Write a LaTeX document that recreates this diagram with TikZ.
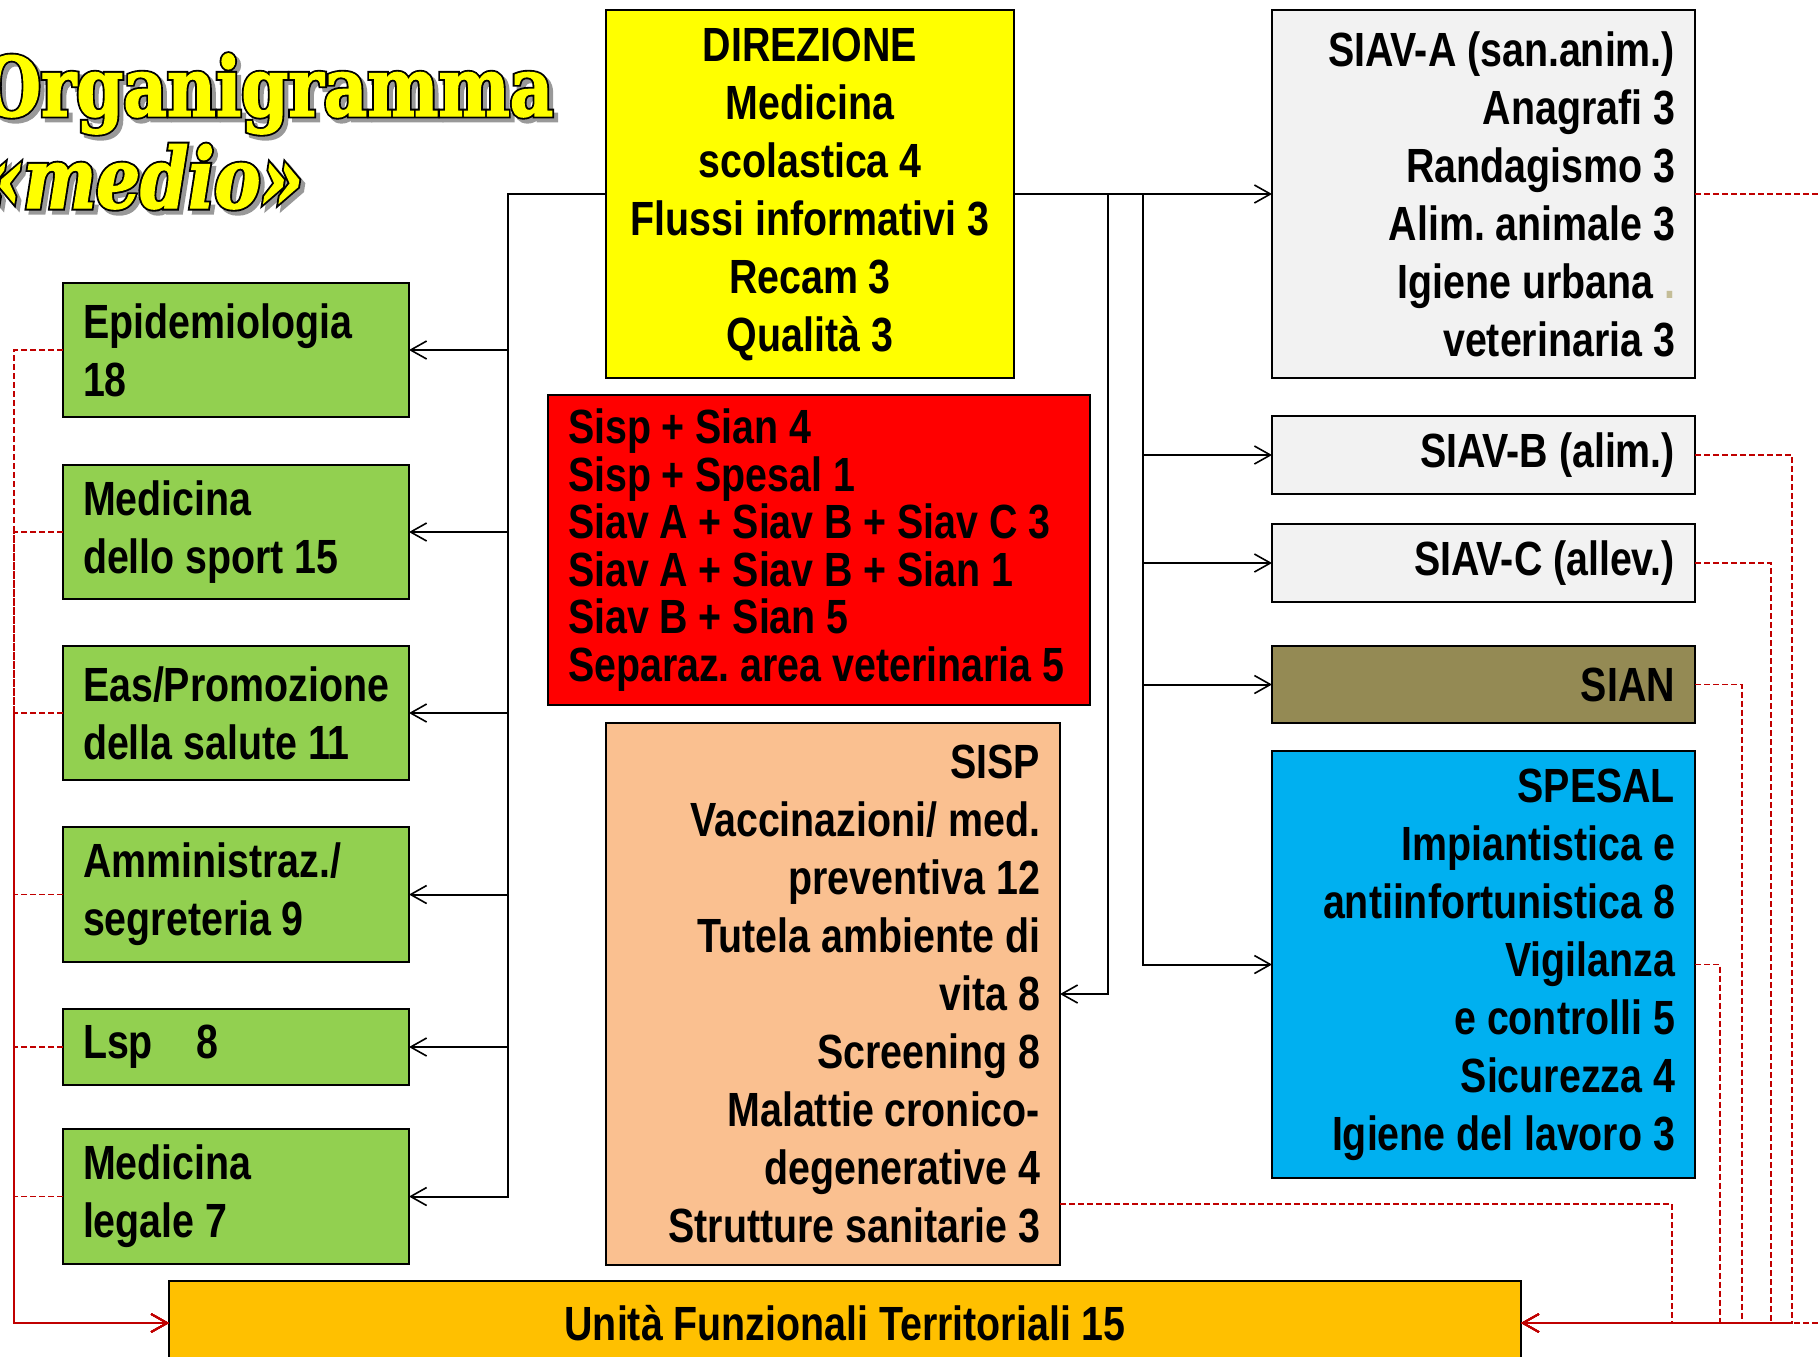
\documentclass[tikz,border=0pt]{standalone}
\usepackage{fontspec}
\setmainfont{Liberation Sans}
\newfontfamily\nar{Liberation Sans}[FakeStretch=0.82]
\newfontfamily\ttl{DejaVu Serif}[FakeStretch=0.82,FakeBold=1.5]
\newfontfamily\ttlo{DejaVu Serif}[FakeStretch=0.82,FakeBold=6]
\usetikzlibrary{arrows.meta,calc}
\definecolor{cyel}{HTML}{FFFF00}
\definecolor{cgray}{HTML}{F2F2F2}
\definecolor{colive}{HTML}{948A54}
\definecolor{cblue}{HTML}{00B0F0}
\definecolor{cred}{HTML}{FF0000}
\definecolor{cpeach}{HTML}{FAC090}
\definecolor{cgreen}{HTML}{92D050}
\definecolor{corange}{HTML}{FFC000}
\definecolor{cdred}{HTML}{C00000}
\definecolor{ctan}{HTML}{C4BD97}
\newcommand\nohyph{\hyphenpenalty=10000\relax\exhyphenpenalty=10000\relax\frenchspacing\spaceskip=5.4pt plus 0.5pt minus 0.5pt\relax}
\tikzset{
  bx/.style={draw=black, line width=1pt, inner xsep=10pt, inner ysep=1pt, outer sep=0pt,
    font=\nar\bfseries\fontsize{24}{29}\selectfont},
  blk/.style={draw=black, line width=1pt, -{Straight Barb[length=8pt,width=9pt,line width=0.8pt]}},
  rdash/.style={draw=cdred, line width=0.6pt, dash pattern=on 3pt off 1.5pt,
    -{Straight Barb[length=8pt,width=9pt,line width=0.9pt]}},
  ttlstyle/.style={anchor=base west, inner sep=0pt},
}
\newcommand\mybox[7]{%
  \pgfmathsetmacro\mbW{(#4-#2)*0.5}%
  \pgfmathsetmacro\mbH{(#5-#3)*0.5}%
  \pgfmathsetmacro\mbT{(#4-#2)*0.5-20}%
  \pgfmathsetmacro\mbX{(#2+#4)/2}%
  \pgfmathsetmacro\mbY{(#3+#5)/2}%
  \node[bx,#6,minimum width=\mbW pt,minimum height=\mbH pt,text width=\mbT pt] (#1) at (\mbX,\mbY) {\nohyph #7};}
\begin{document}
\begin{tikzpicture}[x=0.5pt,y=-0.5pt]
\path[use as bounding box] (0,0) rectangle (1818,1356);
\clip (0,0) rectangle (1818,1356);

% title
\node[ttlstyle, text=black!40, font=\ttlo\bfseries\fontsize{41}{41}\selectfont] at (-14,120) {Organigramma};
\node[ttlstyle, text=black, font=\ttlo\bfseries\fontsize{41}{41}\selectfont] at (-18,116) {Organigramma};
\node[ttlstyle, text=cyel, font=\ttl\bfseries\fontsize{41}{41}\selectfont] (t1) at (-18,116) {Organigramma};
\node[ttlstyle, text=black!40, font=\ttlo\bfseries\itshape\fontsize{42}{42}\selectfont] at (-16,212) {«medio»};
\node[ttlstyle, text=black, font=\ttlo\bfseries\itshape\fontsize{42}{42}\selectfont] at (-20,208) {«medio»};
\node[ttlstyle, text=cyel, font=\ttl\bfseries\itshape\fontsize{42}{42}\selectfont] (t2) at (-20,208) {«medio»};

% boxes
\mybox{dir}{606}{10}{1014}{378}{fill=cyel,align=flush center}{DIREZIONE\\Medicina\\scolastica 4\\Flussi informativi 3\\Recam 3\\Qualità 3}
\mybox{sa}{1272}{10}{1695}{378}{fill=cgray,align=flush right}{SIAV-A (san.anim.)\\Anagrafi 3\\Randagismo 3\\Alim. animale 3\\Igiene urbana \textcolor{ctan}{.}\\veterinaria 3}
\mybox{sb}{1272}{416}{1695}{494}{fill=cgray,align=flush right}{SIAV-B (alim.)}
\mybox{sc}{1272}{524}{1695}{602}{fill=cgray,align=flush right}{SIAV-C (allev.)}
\mybox{sian}{1272}{646}{1695}{723}{fill=colive,align=flush right}{SIAN}
\mybox{spesal}{1272}{751}{1695}{1178}{fill=cblue,align=flush right}{SPESAL\\Impiantistica e\\antiinfortunistica 8\\Vigilanza\\e controlli 5\\Sicurezza 4\\Igiene del lavoro 3}
\mybox{red}{548}{395}{1090}{705}{fill=cred,align=flush left,font=\nar\bfseries\fontsize{24}{23.75}\selectfont}{Sisp + Sian 4\\Sisp + Spesal 1\\Siav A + Siav B + Siav C 3\\Siav A + Siav B + Sian 1\\Siav B + Sian 5\\Separaz. area veterinaria 5}
\mybox{sisp}{606}{723}{1060}{1265}{fill=cpeach,align=flush right}{SISP\\Vaccinazioni/ med.\\preventiva 12\\Tutela ambiente di\\vita 8\\Screening 8\\Malattie cronico-\\degenerative 4\\Strutture sanitarie 3}
\mybox{g1}{63}{283}{409}{417}{fill=cgreen,align=flush left}{Epidemiologia\\18}
\mybox{g2}{63}{465}{409}{599}{fill=cgreen,align=flush left}{Medicina\\dello sport 15}
\mybox{g3}{63}{646}{409}{780}{fill=cgreen,align=flush left}{Eas/Promozione\\della salute 11}
\mybox{g4}{63}{827}{409}{962}{fill=cgreen,align=flush left}{Amministraz./\\segreteria 9}
\mybox{g5}{63}{1009}{409}{1085}{fill=cgreen,align=flush left}{Lsp\hspace{22pt}8}
\mybox{g6}{63}{1129}{409}{1264}{fill=cgreen,align=flush left}{Medicina\\legale 7}
\mybox{uft}{169}{1281}{1521}{1365}{fill=corange,align=flush center}{Unità Funzionali Territoriali 15}

% black connectors
\coordinate (jl) at (508,194);
\coordinate (jr1) at (1108,194);
\coordinate (jr2) at (1143,194);
\foreach \g in {g1,g2,g3,g4,g5,g6}{
  \draw[blk] (dir.west) -- (jl) |- (\g.east);
}
\draw[blk] (dir.east) -- (sa.west);
\draw[blk] (dir.east) -- (jr1) |- (sisp.east);
\foreach \b in {sb,sc,sian,spesal}{
  \draw[blk] (dir.east) -- (jr2) |- (\b.west);
}

% red dashed connectors
\coordinate (lx) at (14,0);
\foreach \g in {g1,g2,g3,g4,g5,g6}{
  \draw[rdash] (\g.west) -- (\g.west -| lx) |- (uft.west);
}
\coordinate (rxa) at (1840,0);
\coordinate (rxb) at (1792,0);
\coordinate (rxc) at (1771,0);
\coordinate (rxd) at (1742,0);
\coordinate (rxe) at (1720,0);
\coordinate (rxf) at (1672,0);
\draw[rdash] (sa.east) -- (sa.east -| rxa) |- (uft.east);
\draw[rdash] (sb.east) -- (sb.east -| rxb) |- (uft.east);
\draw[rdash] (sc.east) -- (sc.east -| rxc) |- (uft.east);
\draw[rdash] (sian.east) -- (sian.east -| rxd) |- (uft.east);
\draw[rdash] (spesal.east) -- (spesal.east -| rxe) |- (uft.east);
\coordinate (sispout) at ($(sisp.south east)+(0,-61)$);
\draw[rdash] (sispout) -- (sispout -| rxf) |- (uft.east);
\end{tikzpicture}
\end{document}
